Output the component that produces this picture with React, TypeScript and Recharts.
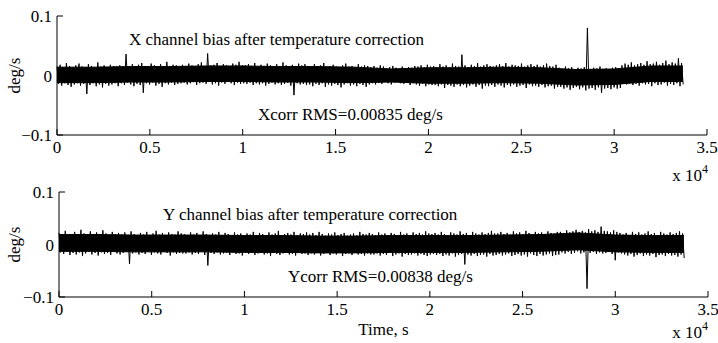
import { Area, ComposedChart, Label, Line, XAxis, YAxis } from "recharts";

const FONT = "Liberation Serif, Times New Roman, serif";

// time axis in seconds, printed in units of 10^4
const TIME_TICKS = [0, 5000, 10000, 15000, 20000, 25000, 30000, 35000];
const RATE_TICKS = [-0.1, 0, 0.1];

// one envelope bin every SAMPLE_STEP seconds: upper extreme, then lower extreme
const SAMPLE_STEP = 169;

// all bias values below are in 1e-3 deg/s
const CORE_T = [0, 2000, 4000, 6000, 8000, 10000, 12000, 14000, 16000, 18000, 20000, 22000, 24000, 26000, 28000, 30000, 32000, 33700];

const X_CORE_HI = [14, 14, 15, 15, 16, 16, 15, 15, 14, 11, 13, 13, 14, 13, 10, 11, 16, 16];
const X_CORE_LO = [-12, -12, -11, -11, -10, -10, -11, -11, -12, -11, -13, -13, -12, -13, -16, -15, -10, -10];

const X_HI = [
  15, 18, 14, 21, 16, 13, 17, 20, 15, 14, 19, 16, 13, 22, 15, 17, 14, 18, 16, 15,
  17, 15, 36, 16, 19, 14, 18, 21, 16, 15, 20, 17, 15, 19, 16, 23, 15, 18, 17, 16,
  18, 16, 20, 17, 15, 19, 22, 16, 37, 17, 18, 21, 16, 19, 17, 15, 20, 18, 23, 17,
  17, 19, 16, 21, 15, 18, 16, 20, 17, 15, 19, 16, 22, 17, 15, 18, 16, 20, 17, 19,
  16, 14, 19, 15, 17, 21, 14, 16, 18, 15, 13, 17, 20, 15, 16, 14, 19, 15, 17, 16,
  14, 16, 13, 17, 15, 12, 14, 16, 13, 11, 15, 12, 14, 13, 16, 15, 17, 14, 18, 15,
  16, 14, 19, 15, 17, 14, 20, 16, 15, 35, 17, 14, 18, 16, 21, 15, 17, 19, 16, 15,
  17, 19, 16, 21, 15, 18, 17, 16, 20, 15, 17, 19, 16, 18, 15, 17, 20, 16, 15, 18,
  13, 11, 15, 12, 14, 10, 13, 12, 14, 80, 11, 13, 12, 15, 11, 12, 10, 13, 14, 12,
  17, 20, 18, 22, 17, 19, 21, 18, 24, 19, 20, 23, 18, 21, 25, 19, 22, 20, 29, 21,
];
const X_LO = [
  -14, -17, -13, -16, -19, -15, -13, -17, -14, -31, -16, -13, -18, -15, -20, -14, -17, -15, -13, -18,
  -13, -16, -12, -15, -18, -14, -16, -29, -13, -15, -12, -17, -14, -19, -13, -15, -12, -16, -14, -13,
  -12, -15, -13, -11, -16, -13, -12, -14, -11, -15, -13, -17, -12, -14, -11, -13, -16, -12, -14, -13,
  -14, -12, -16, -13, -15, -13, -17, -14, -12, -15, -13, -16, -14, -12, -17, -33, -13, -15, -14, -16,
  -15, -18, -14, -16, -13, -19, -15, -17, -14, -16, -20, -15, -13, -17, -15, -18, -14, -16, -19, -15,
  -13, -15, -12, -14, -11, -13, -15, -12, -10, -13, -14, -12, -16, -13, -15, -17, -14, -18, -15, -16,
  -16, -18, -15, -21, -16, -17, -19, -15, -18, -16, -20, -17, -15, -19, -16, -22, -17, -18, -16, -19,
  -15, -17, -20, -16, -18, -15, -19, -17, -16, -21, -15, -18, -17, -19, -16, -20, -18, -17, -22, -19,
  -19, -22, -20, -24, -21, -19, -23, -20, -25, -22, -21, -24, -20, -29, -22, -21, -23, -20, -22, -21,
  -13, -15, -12, -16, -14, -17, -13, -15, -14, -18, -13, -16, -15, -12, -17, -14, -16, -13, -18, -15,
];

const Y_CORE_HI = [19, 19, 18, 18, 18, 17, 17, 16, 16, 17, 17, 17, 18, 19, 22, 18, 17, 17];
const Y_CORE_LO = [-13, -13, -14, -14, -14, -15, -15, -16, -16, -15, -15, -15, -14, -13, -10, -14, -15, -15];

const Y_HI = [
  22, 18, 26, 20, 17, 24, 19, 28, 21, 18, 25, 20, 23, 19, 27, 21, 18, 24, 20, 22,
  19, 23, 18, 25, 20, 17, 22, 19, 24, 18, 21, 26, 19, 22, 18, 23, 20, 19, 25, 21,
  20, 17, 23, 19, 22, 18, 25, 20, 17, 21, 19, 24, 18, 22, 20, 17, 23, 19, 21, 18,
  21, 19, 24, 18, 22, 20, 17, 23, 19, 21, 26, 18, 20, 22, 19, 24, 18, 21, 20, 23,
  19, 22, 18, 24, 20, 17, 21, 19, 23, 18, 20, 22, 17, 19, 21, 18, 24, 20, 19, 22,
  20, 18, 23, 19, 21, 17, 22, 20, 18, 24, 19, 21, 18, 23, 20, 22, 19, 25, 21, 20,
  22, 19, 24, 20, 18, 23, 21, 19, 25, 20, 22, 18, 24, 21, 19, 23, 20, 22, 26, 21,
  21, 24, 20, 22, 19, 25, 21, 23, 20, 26, 22, 19, 24, 21, 23, 20, 25, 22, 21, 24,
  24, 22, 27, 23, 25, 28, 24, 26, 23, 29, 25, 27, 24, 34, 26, 25, 23, 27, 24, 22,
  19, 22, 18, 24, 20, 23, 19, 21, 25, 20, 22, 18, 24, 21, 19, 23, 20, 22, 25, 21,
];
const Y_LO = [
  -15, -18, -14, -20, -16, -19, -15, -22, -17, -14, -19, -16, -21, -15, -18, -16, -20, -14, -17, -19,
  -16, -14, -37, -17, -15, -19, -16, -18, -14, -20, -15, -17, -19, -14, -16, -21, -15, -18, -16, -17,
  -17, -15, -19, -16, -18, -14, -20, -40, -16, -18, -15, -19, -17, -16, -20, -15, -18, -17, -21, -16,
  -18, -16, -20, -17, -15, -19, -17, -22, -16, -18, -20, -17, -15, -19, -18, -21, -16, -18, -17, -20,
  -17, -19, -16, -21, -18, -15, -20, -17, -19, -16, -22, -18, -17, -20, -16, -19, -18, -21, -17, -19,
  -19, -17, -21, -18, -20, -16, -22, -19, -17, -23, -18, -20, -19, -17, -21, -18, -20, -22, -19, -18,
  -20, -18, -22, -19, -21, -17, -23, -20, -18, -38, -19, -21, -18, -22, -20, -19, -23, -18, -21, -20,
  -18, -21, -19, -17, -22, -20, -18, -21, -19, -23, -17, -20, -22, -18, -21, -19, -17, -22, -20, -19,
  -15, -17, -14, -18, -16, -13, -17, -15, -84, -16, -14, -18, -15, -17, -16, -14, -18, -30, -15, -17,
  -19, -21, -18, -23, -20, -17, -22, -19, -21, -18, -24, -20, -19, -22, -18, -21, -20, -23, -19, -26,
];

function buildTrace(hi: number[], lo: number[]) {
  const rows: Array<{ t: number; v: number }> = [];
  hi.forEach((h, i) => {
    rows.push({ t: i * SAMPLE_STEP, v: h / 1000 });
    rows.push({ t: i * SAMPLE_STEP + SAMPLE_STEP / 2, v: lo[i] / 1000 });
  });
  return rows;
}

function buildBand(hi: number[], lo: number[]) {
  return CORE_T.map((t, i) => ({ t, band: [lo[i] / 1000, hi[i] / 1000] }));
}

const tickStyle = { fill: "#000", fontSize: 17, fontFamily: FONT };

function rateLabel(v: number) {
  return v < 0 ? `\u2212${-v}` : `${v}`;
}

function BiasPanel({
  hi,
  lo,
  coreHi,
  coreLo,
  height,
  top,
  right,
  axisWidth,
  axisHeight,
  timeLabel,
}: {
  hi: number[];
  lo: number[];
  coreHi: number[];
  coreLo: number[];
  height: number;
  top: number;
  right: number;
  axisWidth: number;
  axisHeight: number;
  timeLabel: boolean;
}) {
  const trace = buildTrace(hi, lo);
  const band = buildBand(coreHi, coreLo);
  return (
    <ComposedChart width={718} height={height} margin={{ top, right, bottom: 0, left: 0 }}>
      <XAxis
        dataKey="t"
        type="number"
        domain={[0, 35000]}
        ticks={TIME_TICKS}
        interval={0}
        tickFormatter={(v: number) => `${v / 10000}`}
        tickSize={-6}
        tickMargin={12}
        height={axisHeight}
        stroke="#000"
        tick={tickStyle}
      >
        {timeLabel && (
          <Label
            content={({ viewBox }: any) => (
              <text x={viewBox.x + viewBox.width / 2} y={viewBox.y + 38} textAnchor="middle" fontSize={17} fontFamily={FONT} fill="#000">
                Time, s
              </text>
            )}
          />
        )}
      </XAxis>
      <XAxis xAxisId="top" orientation="top" type="number" domain={[0, 35000]} ticks={TIME_TICKS} interval={0} tick={false} tickSize={-6} height={0} stroke="#000" />
      <YAxis
        type="number"
        domain={[-0.1, 0.1]}
        ticks={RATE_TICKS}
        interval={0}
        tickFormatter={rateLabel}
        tickSize={-6}
        tickMargin={11}
        width={axisWidth}
        stroke="#000"
        tick={tickStyle}
      >
        <Label
          content={({ viewBox }: any) => (
            <text
              x={20}
              y={viewBox.y + viewBox.height / 2}
              transform={`rotate(-90 20 ${viewBox.y + viewBox.height / 2})`}
              textAnchor="middle"
              fontSize={17}
              fontFamily={FONT}
              fill="#000"
            >
              deg/s
            </text>
          )}
        />
      </YAxis>
      <YAxis yAxisId="right" orientation="right" type="number" domain={[-0.1, 0.1]} ticks={RATE_TICKS} interval={0} tick={false} tickSize={-6} width={0} stroke="#000" />
      <Area data={band} dataKey="band" type="linear" stroke="#000" strokeWidth={1} fill="#000" fillOpacity={1} isAnimationActive={false} activeDot={false} />
      <Line data={trace} dataKey="v" type="linear" stroke="#000" strokeWidth={1} dot={false} activeDot={false} isAnimationActive={false} />
    </ComposedChart>
  );
}

const noteStyle = { fontSize: 17, fontFamily: FONT, fill: "#000" };

export default function App() {
  return (
    <div style={{ position: "absolute", left: 0, top: 0, width: 718, height: 343, background: "#fff" }}>
      <div style={{ position: "absolute", left: 0, top: 0 }}>
        <BiasPanel hi={X_HI} lo={X_LO} coreHi={X_CORE_HI} coreLo={X_CORE_LO} height={170} top={16} right={11} axisWidth={57} axisHeight={35} timeLabel={false} />
      </div>
      <div style={{ position: "absolute", left: 0, top: 170 }}>
        <BiasPanel hi={Y_HI} lo={Y_LO} coreHi={Y_CORE_HI} coreLo={Y_CORE_LO} height={173} top={22} right={10} axisWidth={59} axisHeight={46} timeLabel={true} />
      </div>
      <svg width={718} height={343} style={{ position: "absolute", left: 0, top: 0, pointerEvents: "none" }}>
        <text x={129} y={45} {...noteStyle}>X channel bias after temperature correction</text>
        <text x={258} y={120} {...noteStyle}>Xcorr RMS=0.00835 deg/s</text>
        <text x={163} y={220} {...noteStyle}>Y channel bias after temperature correction</text>
        <text x={288} y={282} {...noteStyle}>Ycorr RMS=0.00838 deg/s</text>
        <text x={708} y={181} textAnchor="end" {...noteStyle}>
          x 10
          <tspan dy={-8} fontSize={12}>4</tspan>
        </text>
        <text x={708} y={338} textAnchor="end" {...noteStyle}>
          x 10
          <tspan dy={-8} fontSize={12}>4</tspan>
        </text>
      </svg>
    </div>
  );
}
